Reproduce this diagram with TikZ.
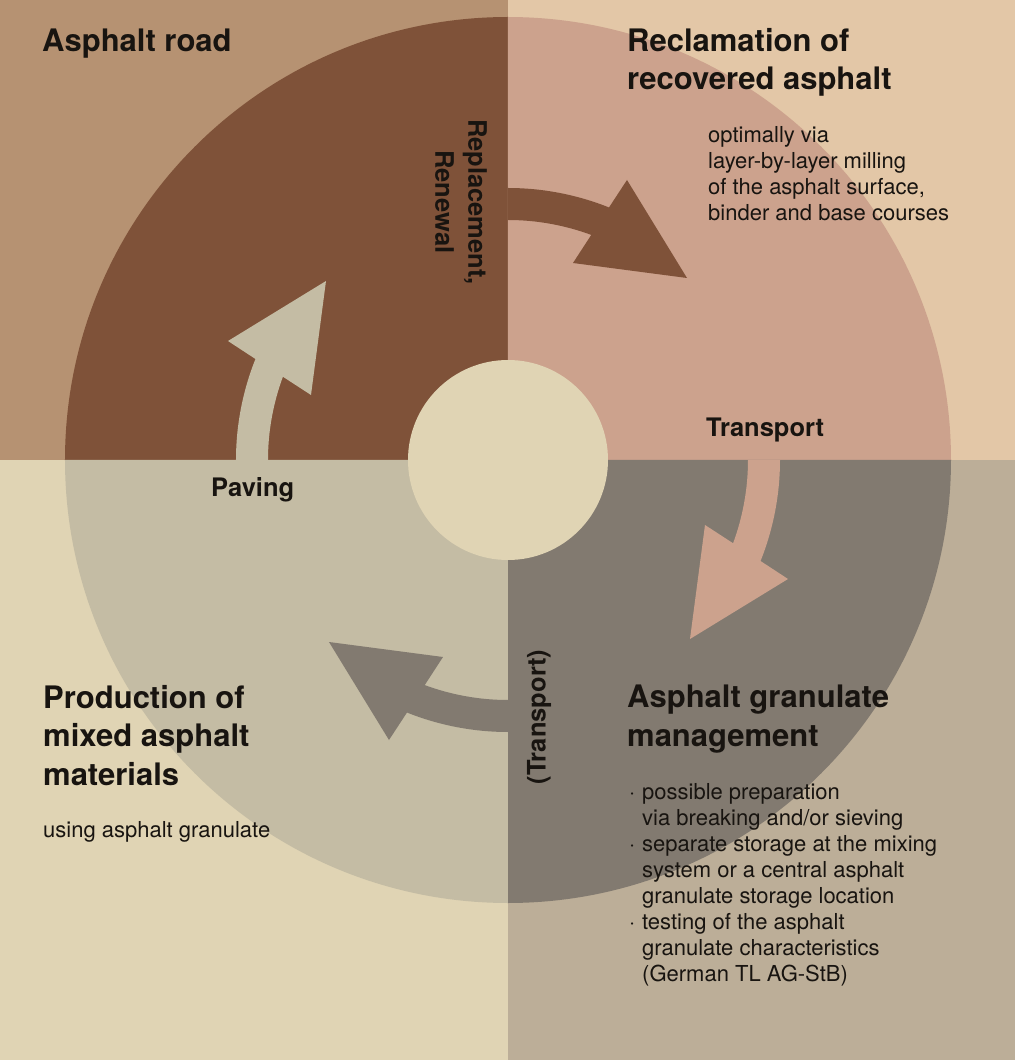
\documentclass[tikz,border=0pt]{standalone}
\usepackage{fontspec}
\setmainfont{TeX Gyre Heros}
\usepackage{xcolor}
\usepackage{tikz}
\usetikzlibrary{positioning}

\definecolor{roadbg}{RGB}{182,146,114}
\definecolor{roadfg}{RGB}{127,82,57}
\definecolor{reclbg}{RGB}{227,199,167}
\definecolor{reclfg}{RGB}{204,162,141}
\definecolor{prodbg}{RGB}{224,212,180}
\definecolor{prodfg}{RGB}{196,188,164}
\definecolor{granbg}{RGB}{188,174,152}
\definecolor{granfg}{RGB}{130,122,112}
\definecolor{ink}{RGB}{24,20,16}

\newcommand{\blt}{\makebox[13pt][l]{·}}
\newcommand{\ind}{\hspace*{13pt}}

\begin{document}
\begin{tikzpicture}[
    x=1pt, y=1pt,
    title/.style={font=\fontsize{31}{38.5}\selectfont\bfseries, text=ink, align=left, anchor=base west, inner sep=0pt},
    body/.style={font=\fontsize{22}{26}\selectfont, text=ink, align=left, anchor=base west, inner sep=0pt},
    label/.style={font=\fontsize{25.5}{33}\selectfont\bfseries, text=ink, align=center, inner sep=0pt}
]
\useasboundingbox (-508,-600) rectangle (507,460);

% Quadrants
\fill[roadbg] (-508,0) rectangle (0,460);
\fill[reclbg] (0,0) rectangle (507,460);
\fill[prodbg] (-508,-600) rectangle (0,0);
\fill[granbg] (0,-600) rectangle (507,0);

% Ring sectors
\foreach \ang/\col in {90/roadfg, 0/reclfg, 270/granfg, 180/prodfg}
  \fill[\col] (0,0) -- (\ang:443) arc[start angle=\ang, end angle=\ang+90, radius=443] -- cycle;
\fill[prodbg] (0,0) circle[radius=100];

% Curved arrows between the stages
\foreach \rot/\col in {0/roadfg, -90/reclfg, -180/granfg, -270/prodfg}{
  \begin{scope}[rotate=\rot]
    \fill[\col] (90:272) arc[start angle=90, end angle=68.2, radius=272]
      -- (119,280) -- (179,182) -- (65,197)
      -- (69.7:240) arc[start angle=69.7, end angle=90, radius=240] -- cycle;
  \end{scope}
}

% Stage titles (base = last line)
\node[title] (road) at (-466,408) {Asphalt road};
\node[title] (recl) at (119,370) {Reclamation of\\recovered asphalt};
\node[title] (prod) at (-465,-325) {Production of\\mixed asphalt\\materials};
\node[title] (gran) at (119,-286) {Asphalt granulate\\management};

% Stage details
\node[body] (recltxt) at (200,239) {optimally via\\layer-by-layer milling\\of the asphalt surface,\\binder and base courses};
\node[body] (prodtxt) at (-465,-377) {using asphalt granulate};
\node[body] (grantxt) at (121,-521) {\blt possible preparation\\\ind via breaking and/or sieving\\\blt separate storage at the mixing\\\ind system or a central asphalt\\\ind granulate storage location\\\blt testing of the asphalt\\\ind granulate characteristics\\\ind (German TL AG-StB)};

% Arrow labels
\node[label, rotate=-90] (renew) at (-47,258) {Replacement,\\Renewal};
\node[label, anchor=base west] (transp) at (198,23) {Transport};
\node[label, rotate=90] (transpb) at (31,-257) {(Transport)};
\node[label, anchor=base west] (paving) at (-297,-37) {Paving};

\end{tikzpicture}
\end{document}
